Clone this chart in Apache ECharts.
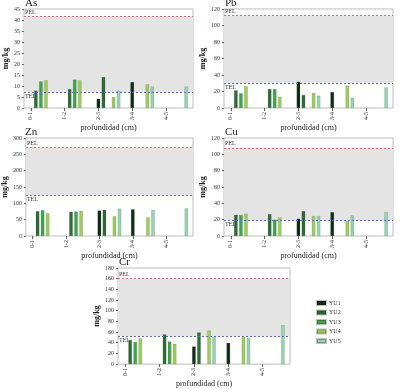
<!DOCTYPE html>
<html><head><meta charset="utf-8">
<script src="https://cdn.jsdelivr.net/npm/echarts@6/dist/echarts.min.js"></script>
<style>html,body{margin:0;padding:0;background:#fff}#c{width:400px;height:389px}</style>
</head><body><div id="c"></div>
<script>
const cats = ['0-1','1-2','2-3','3-4','4-5'];
const seriesNames = ['YU1','YU2','YU3','YU4','YU5'];
const colors = ['#0f2d17','#2f6b38','#41a64b','#9dcb5e','#98d1b0'];

const asYU1 = [null, null, 4.2, 11.8, null];
const asYU2 = [7.9, 8.6, 14.1, null, null];
const asYU3 = [12.1, 12.9, null, null, null];
const asYU4 = [12.6, 12.6, 5.0, 10.8, null];
const asYU5 = [null, null, 8.0, 9.8, 9.8];

const pbYU1 = [null, null, 31.9, 19.4, null];
const pbYU2 = [21.4, 23, 15.8, null, null];
const pbYU3 = [17.8, 23, null, null, null];
const pbYU4 = [26.7, 13.7, 18.2, 27.1, null];
const pbYU5 = [null, null, 15, 12.5, 25];

const znYU1 = [null, null, 78, 82, null];
const znYU2 = [76, 74, 80, null, null];
const znYU3 = [79, 75, null, null, null];
const znYU4 = [70, 77, 61, 57, null];
const znYU5 = [null, null, 84, 80, 85];

const cuYU1 = [null, null, 21.2, 29.3, null];
const cuYU2 = [26, 26.8, 30.5, null, null];
const cuYU3 = [25.6, 20, null, null, null];
const cuYU4 = [27.3, 22.8, 24.4, 18.7, null];
const cuYU5 = [null, null, 24.4, 25.2, 29.3];

const crYU1 = [null, null, 33, 39.8, null];
const crYU2 = [45.3, 55.7, 59.4, null, null];
const crYU3 = [41.6, 42.3, null, null, null];
const crYU4 = [48.4, 38, 63, 50.8, null];
const crYU5 = [null, null, 50.8, 49, 72.9];

const elements = ['As','Pb','Zn','Cu','Cr'];
const TEL = [7.24, 30.2, 124, 18.7, 52.3];
const PEL = [41.6, 112, 271, 108, 160];
const yMax = [45, 120, 300, 120, 180];
const yInterval = [5, 20, 50, 20, 20];
const panelData = [
  [asYU1, asYU2, asYU3, asYU4, asYU5],
  [pbYU1, pbYU2, pbYU3, pbYU4, pbYU5],
  [znYU1, znYU2, znYU3, znYU4, znYU5],
  [cuYU1, cuYU2, cuYU3, cuYU4, cuYU5],
  [crYU1, crYU2, crYU3, crYU4, crYU5]
];

const grids = [
  {left: 24, top: 9, width: 169, height: 99},
  {left: 224, top: 9, width: 169, height: 99},
  {left: 24, top: 138, width: 169, height: 98},
  {left: 224, top: 138, width: 169, height: 98},
  {left: 118, top: 268, width: 172, height: 98}
];
const titleTops = [-2, 127, 127, 127, 257];
const FONT = 'Liberation Serif';
const barW = 3.6, barGapRatio = 0.4;
const slotPx = barW * (1 + barGapRatio);

const option = {
  animation: false,
  backgroundColor: '#fff',
  textStyle: {fontFamily: FONT},
  title: [], grid: [], xAxis: [], yAxis: [], series: [],
  legend: {
    data: seriesNames, orient: 'vertical', left: 316, top: 300,
    itemWidth: 9, itemHeight: 4, itemGap: 3.5, padding: 0,
    textStyle: {fontFamily: FONT, fontSize: 6, color: '#333', padding: [0,0,0,-2]},
    icon: 'rect'
  }
};

elements.forEach((el, p) => {
  const g = grids[p];
  option.title.push({text: el, left: g.left + 1, top: p < 1 ? -2 : (p === 1 ? -2 : titleTops[p]), padding: 0,
    textStyle: {fontFamily: FONT, fontSize: 11, fontWeight: 'normal', color: '#222'}});
  option.grid.push(Object.assign({show: true, borderColor: '#bdbdbd', borderWidth: 1, backgroundColor: 'transparent'}, g));
  const band = g.width / 5;
  const off = 0.5 - 2 * slotPx / band;
  const labelVals = cats.map((c, i) => i + off);
  // category axis for bars
  option.xAxis.push({type: 'category', gridIndex: p, data: cats,
    axisLine: {show: false}, axisTick: {show: false}, axisLabel: {show: false}, splitLine: {show: false}});
  // value axis for labels
  option.xAxis.push({type: 'value', gridIndex: p, min: 0, max: 5, position: 'bottom',
    axisLine: {show: false}, splitLine: {show: false},
    axisTick: {show: true, customValues: labelVals, length: 3, lineStyle: {color: '#444', width: 0.8}},
    axisLabel: {show: true, customValues: labelVals, rotate: 90, fontSize: 6, color: '#333', margin: 4, fontFamily: FONT,
      formatter: v => cats[Math.round(v - off)]},
    name: 'profundidad (cm)', nameLocation: 'middle', nameGap: 15,
    nameTextStyle: {fontFamily: FONT, fontSize: 8, color: '#222'}});
  option.yAxis.push({type: 'value', gridIndex: p, min: 0, max: yMax[p], interval: yInterval[p],
    axisLine: {show: false}, splitLine: {show: false},
    axisTick: {show: true, length: 2, lineStyle: {color: '#444', width: 0.8}},
    axisLabel: {fontSize: 6, color: '#333', margin: 4, fontFamily: FONT},
    name: 'mg/kg', nameLocation: 'middle', nameGap: 12, nameRotate: 90,
    nameTextStyle: {fontFamily: FONT, fontSize: 8, color: '#222', fontWeight: 'bold'}});
  // helper series for band and guideline lines
  option.series.push({type: 'line', xAxisIndex: 2 * p, yAxisIndex: p, data: [], z: 1, silent: true,
    markArea: {silent: true, itemStyle: {color: '#e4e4e4'}, data: [[{yAxis: TEL[p]}, {yAxis: PEL[p]}]]},
    markLine: {silent: true, symbol: 'none', data: [
      {yAxis: PEL[p], lineStyle: {color: '#e06a6a', type: [2, 2], width: 1},
        label: {formatter: 'PEL', position: 'insideStartTop', distance: [1, 1], fontSize: 6, color: '#333', fontFamily: FONT}},
      {yAxis: TEL[p], lineStyle: {color: '#5a6fb5', type: [2, 2], width: 1},
        label: {formatter: 'TEL', position: 'insideStartBottom', distance: [1, 1], fontSize: 6, color: '#333', fontFamily: FONT}}
    ]}});
  panelData[p].forEach((arr, k) => {
    option.series.push({type: 'bar', name: seriesNames[k], xAxisIndex: 2 * p, yAxisIndex: p, data: arr,
      barWidth: barW, barGap: (barGapRatio * 100) + '%', z: 3,
      itemStyle: {color: colors[k], borderColor: 'rgba(0,0,0,0.25)', borderWidth: 0.4}});
  });
});

const chart = echarts.init(document.getElementById('c'), null, {renderer: 'canvas'});
chart.setOption(option);
</script></body></html>
